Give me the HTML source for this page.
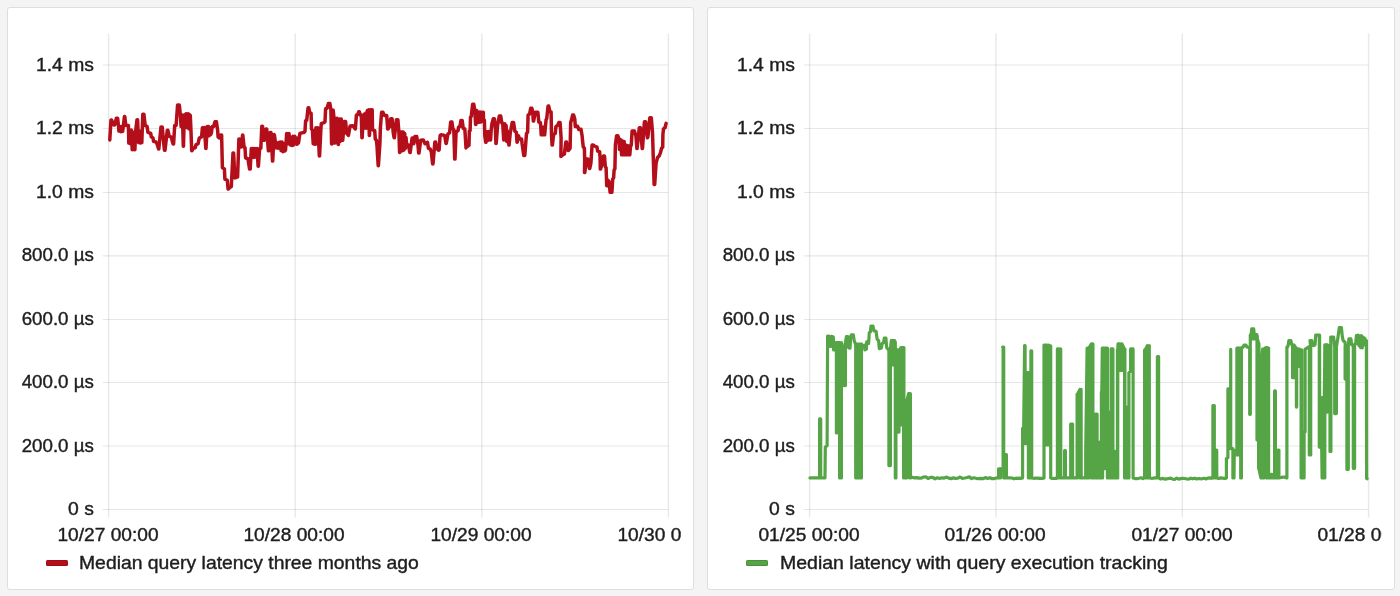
<!DOCTYPE html>
<html><head><meta charset="utf-8"><title>latency</title>
<style>
html,body{margin:0;padding:0}
body{width:1400px;height:596px;background:#f4f4f4;position:relative;overflow:hidden;font-family:"Liberation Sans",sans-serif;color:#1e1e1e;-webkit-text-stroke:0.4px #1e1e1e}
.panel{position:absolute;top:7px;height:583px;box-sizing:border-box;background:#fff;border:1px solid #dedede;border-radius:3px}
.plot{position:absolute;left:0;top:0}
.g{stroke:rgba(0,0,0,0.095);stroke-width:1.2}
.gv{stroke:rgba(0,0,0,0.085);stroke-width:1.5}
.yl,.xl,.lg{will-change:transform}
.yl{position:absolute;height:24px;line-height:24px;font-size:18.4px;text-align:right;white-space:nowrap;transform:scaleX(1.055);transform-origin:100% 50%}
.clip{position:absolute;top:520px;height:30px;overflow:hidden}
.xl{position:absolute;top:3px;width:200px;text-align:center;height:24px;line-height:24px;font-size:18.4px;white-space:nowrap;transform:scaleX(1.04);transform-origin:50% 50%}
.sw{position:absolute;top:559.6px;width:22px;height:6.6px;border-radius:1.5px;box-shadow:inset 0 0 0 1px rgba(0,0,0,0.13)}
.lg{position:absolute;top:550.5px;height:24px;line-height:24px;font-size:18.4px;white-space:nowrap;transform:scaleX(1.052);transform-origin:0 50%}
</style></head><body>
<div class="panel" style="left:7px;width:687px"></div>
<svg class="plot" width="1400" height="596" viewBox="0 0 1400 596">
<clipPath id="c1"><rect x="8" y="8" width="685" height="581"/></clipPath>
<g clip-path="url(#c1)">
<line x1="102.8" y1="65.0" x2="668.4" y2="65.0" class="g"/>
<line x1="102.8" y1="128.5" x2="668.4" y2="128.5" class="g"/>
<line x1="102.8" y1="192.5" x2="668.4" y2="192.5" class="g"/>
<line x1="102.8" y1="255.8" x2="668.4" y2="255.8" class="g"/>
<line x1="102.8" y1="319.5" x2="668.4" y2="319.5" class="g"/>
<line x1="102.8" y1="382.5" x2="668.4" y2="382.5" class="g"/>
<line x1="102.8" y1="446.0" x2="668.4" y2="446.0" class="g"/>
<line x1="102.8" y1="509.5" x2="668.4" y2="509.5" class="g"/>
<line x1="108.6" y1="33.5" x2="108.6" y2="517.5" class="gv"/>
<line x1="295.2" y1="33.5" x2="295.2" y2="517.5" class="gv"/>
<line x1="481.8" y1="33.5" x2="481.8" y2="517.5" class="gv"/>
<line x1="668.4" y1="33.5" x2="668.4" y2="517.5" class="gv"/>
<path d="M109.8,139.9 L111.0,119.9 L111.5,119.9 L113.6,124.9 L114.7,124.9 L116.4,118.3 L117.6,118.3 L118.5,126.0 L118.9,131.1 L119.9,126.6 L120.8,131.7 L121.7,126.6 L122.6,131.4 L123.3,126.6 L124.4,116.6 L124.8,116.6 L125.8,125.4 L128.4,125.4 L128.8,143.1 L129.6,131.1 L130.4,143.7 L131.3,130.0 L132.2,149.7 L133.3,132.3 L134.6,149.7 L134.9,149.7 L135.6,131.1 L137.0,119.7 L137.6,119.7 L138.6,142.6 L139.5,131.1 L140.4,143.1 L141.3,132.3 L141.8,142.6 L142.8,114.3 L143.9,114.3 L145.2,125.4 L147.1,126.6 L147.9,132.3 L150.7,133.4 L151.3,136.9 L153.0,138.0 L153.6,141.4 L155.9,142.0 L157.0,143.7 L158.6,149.1 L158.8,149.1 L161.0,126.9 L162.2,126.9 L164.4,150.2 L165.0,150.2 L167.3,130.3 L167.9,130.3 L169.2,136.3 L171.1,136.9 L173.0,143.9 L173.6,143.9 L174.7,125.4 L176.1,125.4 L177.6,105.0 L179.3,105.0 L180.4,115.1 L181.1,126.6 L182.1,115.1 L182.4,115.1 L183.3,146.2 L183.5,146.2 L184.3,115.1 L185.0,127.7 L186.0,113.8 L186.3,113.8 L187.1,127.7 L188.1,113.8 L188.3,113.8 L189.1,128.9 L190.0,115.1 L190.3,115.7 L190.9,128.9 L191.7,150.8 L192.0,150.8 L193.2,148.3 L195.3,147.7 L195.9,144.9 L198.1,143.7 L199.3,138.0 L201.6,136.9 L202.4,127.7 L203.1,135.7 L204.1,127.5 L204.3,127.5 L205.8,148.5 L206.0,148.5 L207.2,126.6 L207.9,135.7 L208.5,126.6 L209.2,135.7 L209.9,127.7 L210.8,134.6 L211.5,132.3 L212.2,126.6 L213.6,126.6 L215.0,121.8 L216.4,121.8 L217.6,130.0 L218.1,136.9 L219.3,138.0 L220.8,134.9 L221.6,134.9 L222.4,167.7 L224.4,168.9 L224.9,179.1 L227.3,180.3 L228.1,189.1 L229.6,187.7 L231.3,186.6 L233.0,152.9 L233.6,152.9 L234.9,178.0 L237.6,176.9 L238.9,138.9 L239.3,138.9 L240.9,147.1 L241.1,147.1 L242.6,134.9 L242.8,134.9 L244.1,147.1 L245.0,147.7 L245.6,158.0 L247.9,158.6 L249.6,169.1 L250.2,169.1 L251.3,148.6 L252.1,157.4 L253.0,148.6 L253.9,157.4 L254.8,148.6 L255.7,156.9 L256.9,148.6 L257.1,148.6 L258.1,166.2 L258.4,166.2 L259.6,148.6 L260.8,148.3 L261.8,126.3 L262.5,126.3 L264.0,140.3 L264.3,140.3 L265.9,128.9 L266.7,128.9 L268.4,150.8 L268.7,150.8 L270.1,132.6 L271.0,132.6 L272.5,161.1 L272.7,161.1 L274.1,134.6 L274.4,135.1 L275.6,143.7 L276.1,147.7 L277.0,143.1 L277.9,148.3 L278.8,142.6 L279.7,148.3 L280.2,142.0 L281.1,150.6 L282.0,142.0 L282.9,151.7 L283.9,143.7 L284.8,151.1 L285.5,150.0 L286.7,133.4 L287.0,133.4 L288.2,143.7 L289.0,133.4 L289.6,139.1 L290.3,144.9 L291.3,139.1 L291.5,139.7 L292.3,145.4 L292.8,136.3 L293.7,144.9 L294.6,136.3 L294.8,136.3 L295.5,143.7 L296.4,138.0 L297.1,144.3 L297.8,138.0 L298.5,143.1 L299.3,137.4 L299.9,133.4 L304.4,132.3 L305.0,131.1 L305.6,120.9 L306.7,120.3 L308.1,107.7 L308.7,107.7 L309.9,112.9 L311.1,113.4 L311.5,128.9 L312.4,130.0 L313.2,143.7 L314.0,131.1 L314.9,144.3 L315.9,127.7 L316.8,143.7 L317.7,127.7 L317.9,127.7 L318.7,142.6 L319.3,155.9 L319.6,155.9 L320.7,132.3 L321.3,123.7 L323.3,122.9 L325.0,122.0 L325.6,108.9 L327.1,108.1 L328.4,103.5 L329.9,103.5 L330.9,110.0 L331.6,143.9 L331.8,143.9 L332.9,110.0 L333.2,110.3 L334.1,118.6 L334.6,143.1 L335.3,118.6 L336.0,142.6 L336.9,118.3 L337.2,118.9 L338.2,144.5 L338.4,144.5 L339.3,118.9 L340.1,141.4 L341.0,118.9 L341.3,118.9 L342.5,140.3 L342.7,140.3 L344.4,121.4 L345.6,121.4 L346.7,133.4 L348.4,135.4 L350.1,126.0 L353.0,125.8 L355.2,128.9 L355.4,128.9 L356.4,115.1 L357.6,114.6 L358.7,111.8 L359.3,111.8 L360.4,115.1 L361.3,115.1 L361.9,137.7 L362.2,137.7 L363.3,115.1 L363.9,127.9 L364.5,114.0 L365.2,127.9 L365.9,112.9 L366.6,128.3 L367.3,110.6 L368.0,128.3 L368.7,109.8 L369.3,135.4 L369.5,135.4 L370.5,109.8 L371.2,128.3 L372.0,109.8 L372.2,109.8 L372.5,128.9 L373.0,130.0 L374.7,130.6 L375.3,139.1 L376.4,140.3 L377.0,146.0 L377.6,156.3 L378.2,165.7 L378.4,165.7 L379.9,143.7 L380.4,127.7 L381.6,112.3 L383.0,112.3 L384.2,115.5 L386.7,115.5 L387.7,129.1 L388.0,129.1 L389.6,126.6 L390.7,118.7 L392.1,118.7 L393.2,132.3 L394.1,137.7 L394.4,137.7 L396.4,119.7 L397.9,119.7 L398.9,132.3 L399.6,152.5 L399.8,152.5 L400.5,132.1 L401.2,151.1 L401.9,132.1 L402.6,150.6 L403.3,132.1 L404.0,150.0 L404.7,133.4 L405.3,148.3 L406.0,137.4 L406.7,144.9 L408.4,144.9 L409.8,152.5 L410.2,152.5 L412.1,138.0 L412.8,138.0 L413.8,143.7 L415.0,136.6 L416.7,136.6 L417.8,143.7 L418.7,153.1 L419.0,153.1 L420.7,140.3 L423.3,139.9 L425.0,143.7 L426.2,143.1 L427.5,142.3 L428.4,148.3 L430.1,148.9 L431.3,151.7 L432.6,163.9 L433.0,163.9 L434.9,142.0 L435.6,142.0 L436.7,148.3 L438.4,150.2 L439.1,150.0 L440.1,135.7 L441.0,134.7 L443.3,135.1 L444.7,135.7 L446.0,143.4 L446.3,143.4 L447.9,134.0 L449.6,132.9 L450.7,122.0 L451.9,122.0 L452.9,128.9 L453.8,129.8 L454.7,159.1 L455.0,159.1 L456.1,131.7 L458.1,130.6 L458.5,127.1 L459.9,126.6 L461.0,120.4 L462.2,120.4 L463.2,128.3 L464.8,128.9 L465.2,134.6 L466.0,147.9 L466.5,147.1 L469.0,145.4 L469.3,131.1 L470.1,130.6 L470.5,117.4 L471.3,116.3 L472.6,104.3 L473.8,104.3 L474.8,110.3 L475.6,124.5 L475.9,124.5 L476.7,110.6 L477.6,122.6 L478.3,111.9 L479.2,122.2 L480.1,111.9 L481.0,122.0 L481.9,112.3 L482.7,120.9 L483.3,112.3 L483.5,119.7 L484.4,120.3 L484.8,135.7 L485.7,142.2 L486.0,142.2 L487.2,131.7 L487.9,140.3 L488.5,131.4 L489.2,139.9 L490.1,131.7 L490.6,139.9 L491.1,131.1 L491.9,123.7 L493.3,118.7 L494.4,118.7 L495.4,128.9 L495.9,143.4 L496.2,143.4 L497.6,125.4 L499.3,116.1 L500.7,116.1 L501.8,122.9 L502.7,123.4 L503.7,139.9 L504.0,139.9 L504.8,123.7 L505.5,138.0 L506.1,125.4 L506.8,141.4 L507.5,131.1 L508.9,145.1 L509.1,145.1 L510.3,132.3 L510.7,130.6 L512.2,122.5 L513.6,122.5 L514.8,131.1 L516.4,132.3 L517.0,142.2 L517.3,142.2 L518.5,135.7 L519.6,139.1 L521.6,138.9 L522.1,143.7 L523.8,155.4 L524.8,155.4 L526.5,133.4 L527.6,132.3 L528.1,115.1 L529.6,114.0 L530.7,108.3 L531.9,108.3 L532.8,112.9 L533.3,121.1 L533.6,121.1 L535.3,112.3 L537.9,112.3 L538.8,122.0 L540.4,122.6 L540.8,126.6 L541.2,134.8 L542.1,127.1 L543.1,134.8 L544.0,127.1 L544.7,134.8 L545.3,127.7 L546.1,119.7 L546.7,118.6 L548.1,106.0 L548.7,106.0 L549.9,111.7 L551.1,111.9 L551.5,134.6 L552.1,145.1 L552.4,145.1 L553.6,134.6 L555.3,133.4 L555.9,126.6 L557.6,125.4 L558.9,122.6 L560.1,122.6 L561.1,138.0 L560.9,156.5 L562.5,155.1 L564.4,154.0 L565.8,142.0 L566.5,142.0 L568.2,150.6 L568.5,150.6 L570.1,148.3 L570.7,122.0 L571.3,120.9 L572.6,115.1 L573.6,115.1 L574.8,119.1 L575.3,126.6 L577.6,126.3 L578.7,129.4 L581.0,129.2 L582.1,135.7 L582.5,140.3 L583.3,147.1 L584.4,148.3 L584.7,159.7 L584.5,172.5 L584.8,172.5 L586.5,158.9 L587.7,158.9 L589.4,168.5 L589.7,168.5 L590.9,163.1 L592.1,145.0 L593.0,145.0 L594.4,146.0 L597.0,147.1 L597.6,151.1 L599.6,151.7 L600.1,157.4 L600.3,169.1 L600.6,169.1 L602.4,163.1 L603.5,156.1 L604.5,156.1 L605.3,166.6 L606.1,167.7 L606.5,179.1 L606.7,185.7 L607.9,180.3 L609.0,181.4 L610.1,192.3 L611.9,192.3 L612.7,179.1 L613.6,178.0 L614.1,170.0 L614.9,168.9 L615.4,144.9 L616.6,135.7 L617.8,135.7 L619.1,139.1 L619.5,149.4 L620.5,139.7 L620.7,139.7 L621.6,154.8 L622.5,140.9 L623.3,154.8 L624.1,141.4 L625.0,154.8 L625.7,144.9 L626.6,154.8 L627.3,145.4 L628.2,154.8 L629.0,146.0 L629.8,154.8 L630.5,146.6 L631.3,144.9 L632.1,130.9 L634.4,131.1 L635.9,135.7 L636.9,148.5 L637.1,148.5 L639.3,127.8 L640.5,127.8 L642.2,148.5 L642.5,148.5 L644.4,121.8 L645.6,121.8 L647.4,137.7 L647.9,136.9 L649.8,117.8 L651.3,117.8 L652.5,132.3 L654.1,184.5 L654.7,184.5 L656.1,163.1 L657.6,157.4 L659.3,155.7 L660.4,152.9 L661.6,148.3 L662.7,147.1 L662.9,134.6 L663.5,128.9 L665.0,127.7 L666.1,123.4" fill="none" stroke="#b50e1b" stroke-width="3.5" stroke-linejoin="round" stroke-linecap="round"/>
</g></svg>
<div class="yl" style="left:7px;width:86.89999999999999px;top:52.6px;transform:scaleX(1.05)">1.4 ms</div>
<div class="yl" style="left:7px;width:86.89999999999999px;top:116.1px;transform:scaleX(1.05)">1.2 ms</div>
<div class="yl" style="left:7px;width:86.89999999999999px;top:180.1px;transform:scaleX(1.05)">1.0 ms</div>
<div class="yl" style="left:7px;width:86.89999999999999px;top:243.4px;transform:scaleX(1.018)">800.0 µs</div>
<div class="yl" style="left:7px;width:86.89999999999999px;top:307.1px;transform:scaleX(1.018)">600.0 µs</div>
<div class="yl" style="left:7px;width:86.89999999999999px;top:370.1px;transform:scaleX(1.018)">400.0 µs</div>
<div class="yl" style="left:7px;width:86.89999999999999px;top:433.6px;transform:scaleX(1.018)">200.0 µs</div>
<div class="yl" style="left:7px;width:86.89999999999999px;top:497.1px;transform:scaleX(1.05)">0 s</div>
<div class="clip" style="left:8px;width:673px">
<div class="xl" style="left:-0.2px;">10/27 00:00</div>
<div class="xl" style="left:186.4px;">10/28 00:00</div>
<div class="xl" style="left:373.0px;">10/29 00:00</div>
<div class="xl" style="left:559.6px;">10/30 00:00</div>
</div>
<div class="sw" style="left:45.9px;background:#b50e1b"></div>
<div class="lg" style="left:79.0px;transform:scaleX(1.052)">Median query latency three months ago</div>
<div class="panel" style="left:707px;width:688px"></div>
<svg class="plot" width="1400" height="596" viewBox="0 0 1400 596">
<clipPath id="c2"><rect x="709" y="8" width="685" height="581"/></clipPath>
<g clip-path="url(#c2)">
<line x1="803.8000000000001" y1="65.0" x2="1368.6" y2="65.0" class="g"/>
<line x1="803.8000000000001" y1="128.5" x2="1368.6" y2="128.5" class="g"/>
<line x1="803.8000000000001" y1="192.5" x2="1368.6" y2="192.5" class="g"/>
<line x1="803.8000000000001" y1="255.8" x2="1368.6" y2="255.8" class="g"/>
<line x1="803.8000000000001" y1="319.5" x2="1368.6" y2="319.5" class="g"/>
<line x1="803.8000000000001" y1="382.5" x2="1368.6" y2="382.5" class="g"/>
<line x1="803.8000000000001" y1="446.0" x2="1368.6" y2="446.0" class="g"/>
<line x1="803.8000000000001" y1="509.5" x2="1368.6" y2="509.5" class="g"/>
<line x1="809.6" y1="33.5" x2="809.6" y2="517.5" class="gv"/>
<line x1="995.9" y1="33.5" x2="995.9" y2="517.5" class="gv"/>
<line x1="1182.3" y1="33.5" x2="1182.3" y2="517.5" class="gv"/>
<line x1="1368.6" y1="33.5" x2="1368.6" y2="517.5" class="gv"/>
<path d="M810.0,477.9 L819.6,477.9 L819.6,418.9 L820.7,418.9 L820.7,477.9 L825.0,477.9 L825.3,447.1 L827.1,445.7 L827.6,336.0 L829.0,336.0 L829.6,346.3 L830.7,346.3 L831.3,336.3 L833.3,337.0 L833.6,349.9 L834.7,349.9 L835.7,342.7 L836.4,342.7 L836.4,432.9 L836.7,432.9 L836.7,342.7 L839.6,342.7 L839.6,477.9 L841.4,477.9 L841.4,342.7 L843.3,349.1 L844.1,349.1 L844.1,385.6 L845.4,385.6 L845.4,343.4 L846.4,336.6 L847.6,336.6 L848.6,347.7 L850.0,348.1 L850.7,336.3 L851.4,334.9 L853.3,334.9 L854.3,341.3 L855.3,343.4 L855.7,344.1 L855.7,477.9 L857.1,477.9 L857.1,344.1 L858.6,344.1 L858.6,477.9 L860.0,477.9 L860.0,344.1 L861.4,344.1 L861.4,477.9 L861.5,344.1 L862.1,346.3 L863.3,345.6 L864.3,345.1 L865.0,349.9 L866.4,349.1 L866.7,342.0 L867.9,341.3 L868.6,343.4 L869.3,332.7 L870.4,332.0 L871.0,326.0 L873.0,326.0 L873.9,330.9 L876.1,331.3 L877.1,339.1 L878.6,340.6 L879.3,348.7 L881.4,348.0 L882.1,343.4 L883.6,342.7 L884.3,338.1 L885.9,338.1 L886.7,347.7 L887.9,349.1 L888.9,349.1 L888.9,465.6 L890.4,465.6 L890.4,349.1 L891.3,340.6 L892.1,340.6 L892.1,364.9 L893.3,364.9 L893.3,340.6 L894.4,340.6 L894.4,364.9 L894.5,340.6 L895.3,342.0 L895.3,349.1 L895.3,477.9 L895.9,477.9 L895.9,349.1 L898.7,350.6 L898.7,432.1 L899.0,432.1 L899.0,350.6 L901.0,347.7 L901.0,425.0 L901.3,425.0 L901.3,347.7 L903.6,347.7 L903.6,477.9 L903.9,477.9 L903.9,347.7 L903.9,477.9 L906.7,477.9 L906.7,401.3 L908.6,393.7 L909.6,393.7 L909.6,477.9 L910.4,477.9 L910.4,393.7 L910.5,477.9 L912.1,477.3 L914.4,477.9 L916.7,477.6 L919.0,478.1 L921.3,478.1 L923.6,477.0 L925.9,476.9 L928.1,478.5 L930.4,477.4 L932.7,477.3 L935.0,478.8 L937.3,477.8 L939.6,478.5 L941.9,477.8 L944.1,478.1 L946.4,477.2 L948.7,478.1 L951.0,478.6 L953.3,477.9 L955.6,478.3 L957.9,478.2 L960.1,477.0 L962.4,478.4 L964.7,478.0 L967.0,477.5 L969.3,476.9 L971.6,478.6 L973.9,477.8 L976.1,478.3 L978.4,478.6 L980.7,478.3 L983.0,478.7 L985.3,477.6 L987.6,478.5 L989.9,477.7 L992.1,478.7 L994.4,478.6 L996.4,477.9 L998.6,477.9 L998.6,468.9 L1000.4,468.9 L1000.4,477.9 L1000.5,468.9 L1003.1,468.9 L1003.1,347.0 L1002.6,347.0 L1003.7,347.0 L1003.7,477.9 L1004.9,477.9 L1005.1,454.6 L1006.4,454.6 L1006.4,477.9 L1007.9,477.8 L1009.9,477.9 L1011.9,478.0 L1013.9,478.8 L1015.9,478.2 L1017.9,478.4 L1019.9,478.1 L1021.4,478.3 L1022.6,477.9 L1022.6,428.6 L1023.7,427.7 L1024.6,345.6 L1025.1,345.6 L1025.1,443.6 L1026.3,443.6 L1026.3,372.7 L1028.4,372.7 L1028.4,477.9 L1030.9,477.9 L1030.9,350.9 L1031.7,350.9 L1031.7,477.9 L1033.7,478.3 L1035.7,478.2 L1037.7,478.1 L1039.7,478.4 L1041.7,478.4 L1042.9,478.3 L1044.0,477.9 L1044.0,345.1 L1046.6,345.1 L1046.6,445.0 L1048.1,445.0 L1048.1,345.1 L1050.7,346.0 L1050.7,477.9 L1052.1,478.5 L1054.1,478.3 L1056.1,478.5 L1056.4,478.1 L1057.4,477.9 L1057.4,348.9 L1059.1,348.9 L1059.1,477.9 L1060.7,477.9 L1060.7,348.9 L1060.8,477.9 L1064.6,477.9 L1064.6,450.7 L1065.4,450.7 L1065.4,477.9 L1067.9,477.9 L1070.7,477.9 L1070.7,424.0 L1072.6,424.0 L1072.6,477.9 L1077.1,477.9 L1077.1,394.1 L1077.4,394.1 L1077.4,477.9 L1077.5,394.1 L1080.0,389.4 L1080.0,389.4 L1080.0,477.9 L1081.1,477.9 L1081.1,389.4 L1081.2,477.9 L1083.4,477.9 L1085.7,477.9 L1085.7,452.9 L1087.1,348.0 L1087.1,477.9 L1088.9,477.9 L1088.9,348.0 L1091.4,343.9 L1091.4,477.9 L1092.9,477.9 L1092.9,343.9 L1092.9,477.9 L1095.4,477.9 L1095.4,414.0 L1097.1,414.0 L1097.1,477.9 L1099.7,477.9 L1099.7,442.1 L1100.3,442.1 L1100.3,477.9 L1101.4,477.9 L1101.4,392.0 L1101.7,392.0 L1101.7,477.9 L1101.8,392.0 L1102.3,348.0 L1102.6,348.0 L1102.6,477.9 L1102.6,348.0 L1104.6,348.0 L1104.6,468.6 L1105.4,468.6 L1105.4,348.0 L1107.4,348.0 L1107.4,477.9 L1109.1,477.9 L1109.1,412.1 L1109.1,477.9 L1111.1,477.9 L1111.1,348.9 L1112.9,348.9 L1112.9,477.9 L1115.1,477.9 L1115.1,451.4 L1115.2,477.9 L1117.4,477.9 L1117.4,349.9 L1117.7,349.9 L1117.7,477.9 L1117.8,349.9 L1118.0,343.9 L1120.3,343.9 L1120.3,370.3 L1122.0,370.3 L1122.0,343.9 L1124.3,348.9 L1124.6,348.9 L1124.6,477.9 L1124.9,477.9 L1124.9,348.9 L1124.9,477.9 L1127.1,477.9 L1127.1,407.1 L1127.1,477.9 L1128.9,477.9 L1128.9,372.7 L1130.6,371.3 L1130.6,348.9 L1133.1,348.9 L1133.1,477.9 L1135.0,478.6 L1137.0,478.7 L1139.0,478.3 L1141.0,477.8 L1143.0,478.6 L1143.1,478.1 L1144.6,477.9 L1144.6,349.9 L1145.1,349.9 L1145.1,477.9 L1145.2,349.9 L1147.4,345.6 L1147.4,477.9 L1149.3,477.9 L1149.3,345.6 L1149.4,477.9 L1151.4,478.3 L1153.4,478.2 L1155.4,477.9 L1156.0,477.9 L1157.4,477.9 L1157.4,356.6 L1158.6,356.6 L1158.6,477.9 L1160.7,479.0 L1162.7,478.4 L1164.7,479.1 L1166.7,478.8 L1168.7,478.5 L1170.7,478.2 L1172.7,479.1 L1174.7,479.3 L1176.7,478.2 L1178.7,479.1 L1180.7,478.6 L1182.7,478.3 L1184.7,478.5 L1186.7,479.0 L1188.7,479.1 L1190.7,478.2 L1192.7,478.8 L1194.7,478.2 L1196.7,479.0 L1198.7,478.5 L1200.0,478.7 L1200.0,478.7 L1202.0,478.8 L1204.0,478.3 L1206.0,478.9 L1208.0,478.1 L1210.0,477.8 L1211.4,478.3 L1212.9,477.9 L1212.9,405.6 L1214.3,405.6 L1214.3,477.9 L1216.7,477.9 L1216.7,450.0 L1216.8,477.9 L1218.6,478.5 L1220.6,477.9 L1222.6,478.1 L1224.6,478.3 L1225.0,478.4 L1226.4,477.9 L1226.4,458.6 L1227.9,457.7 L1227.9,388.9 L1230.7,388.9 L1230.7,349.4 L1230.7,448.6 L1232.9,448.6 L1232.9,477.9 L1234.0,477.9 L1234.3,450.6 L1236.0,450.6 L1236.9,455.0 L1236.9,348.0 L1238.1,348.0 L1238.1,455.0 L1238.2,348.0 L1240.7,348.0 L1240.7,477.9 L1241.4,477.9 L1241.4,348.0 L1243.1,347.0 L1244.0,345.1 L1246.0,345.1 L1246.9,347.0 L1248.6,347.4 L1249.7,347.4 L1249.7,414.3 L1250.3,414.3 L1250.3,334.9 L1251.1,334.9 L1251.7,328.9 L1253.7,328.9 L1254.3,334.6 L1256.9,334.6 L1256.9,338.9 L1252.9,338.9 L1252.9,336.3 L1257.4,336.3 L1257.0,337.7 L1257.0,440.0 L1257.1,337.7 L1258.6,343.4 L1258.6,343.4 L1258.6,468.6 L1258.9,468.6 L1258.9,343.4 L1258.9,468.6 L1260.9,477.9 L1260.9,368.4 L1262.6,349.1 L1262.9,349.1 L1262.9,477.9 L1264.0,477.9 L1264.0,349.1 L1265.7,347.7 L1267.4,347.7 L1266.6,348.0 L1266.6,477.9 L1267.6,477.9 L1267.6,348.0 L1268.6,348.0 L1268.6,477.9 L1271.1,477.9 L1271.1,474.3 L1272.0,474.3 L1272.0,477.9 L1274.6,477.9 L1274.6,390.9 L1275.4,390.9 L1275.4,477.9 L1278.0,477.9 L1278.0,450.0 L1278.9,450.0 L1278.9,477.9 L1280.9,477.5 L1282.9,477.1 L1284.9,477.0 L1285.0,477.4 L1286.9,477.9 L1286.9,347.0 L1288.0,346.3 L1288.9,340.6 L1290.9,340.6 L1291.7,344.6 L1292.6,344.9 L1292.6,377.7 L1293.9,377.7 L1293.9,344.9 L1296.4,348.4 L1296.4,407.1 L1296.7,407.1 L1296.7,348.4 L1298.9,349.1 L1298.9,366.3 L1298.9,349.1 L1301.1,349.9 L1301.1,477.9 L1301.7,477.9 L1301.7,349.9 L1301.8,477.9 L1304.1,477.9 L1304.1,432.1 L1305.1,432.1 L1305.1,349.1 L1306.4,348.4 L1308.6,347.0 L1309.3,346.6 L1309.3,455.0 L1310.7,455.0 L1310.7,346.6 L1310.0,340.6 L1311.7,340.6 L1312.6,344.9 L1313.7,345.6 L1315.0,344.9 L1315.7,335.1 L1318.6,335.1 L1319.3,335.1 L1319.3,447.1 L1319.6,447.1 L1319.6,335.1 L1319.6,447.1 L1319.6,447.1 L1321.7,447.7 L1322.1,477.9 L1322.1,397.7 L1322.4,397.7 L1322.4,477.9 L1322.5,397.7 L1324.3,397.7 L1324.7,364.9 L1324.8,344.9 L1324.8,477.9 L1324.9,344.9 L1327.1,344.9 L1327.1,412.1 L1327.4,412.1 L1327.4,344.9 L1330.0,346.3 L1330.0,451.4 L1330.9,451.4 L1330.9,346.3 L1330.7,337.0 L1333.6,337.0 L1334.7,347.0 L1334.7,413.6 L1336.4,413.6 L1336.4,347.0 L1337.9,337.7 L1339.3,327.7 L1341.4,327.7 L1342.3,336.3 L1343.1,340.6 L1345.0,342.0 L1345.4,346.3 L1345.1,346.3 L1345.1,379.1 L1345.2,346.3 L1346.9,346.3 L1346.9,469.3 L1348.3,469.3 L1348.3,346.3 L1348.9,338.9 L1350.9,338.9 L1351.7,344.9 L1353.3,344.9 L1353.3,468.3 L1354.6,468.3 L1354.6,344.9 L1355.7,343.4 L1356.4,335.6 L1357.1,343.4 L1358.0,335.1 L1358.9,345.6 L1359.7,336.0 L1360.6,347.7 L1361.4,335.6 L1362.3,348.0 L1363.1,337.0 L1364.0,344.9 L1364.9,338.4 L1365.7,342.0 L1366.4,340.6 L1366.6,478.4 L1367.1,478.7" fill="none" stroke="#55a546" stroke-width="3.2" stroke-linejoin="round" stroke-linecap="round"/>
</g></svg>
<div class="yl" style="left:708px;width:86.90000000000002px;top:52.6px;transform:scaleX(1.05)">1.4 ms</div>
<div class="yl" style="left:708px;width:86.90000000000002px;top:116.1px;transform:scaleX(1.05)">1.2 ms</div>
<div class="yl" style="left:708px;width:86.90000000000002px;top:180.1px;transform:scaleX(1.05)">1.0 ms</div>
<div class="yl" style="left:708px;width:86.90000000000002px;top:243.4px;transform:scaleX(1.018)">800.0 µs</div>
<div class="yl" style="left:708px;width:86.90000000000002px;top:307.1px;transform:scaleX(1.018)">600.0 µs</div>
<div class="yl" style="left:708px;width:86.90000000000002px;top:370.1px;transform:scaleX(1.018)">400.0 µs</div>
<div class="yl" style="left:708px;width:86.90000000000002px;top:433.6px;transform:scaleX(1.018)">200.0 µs</div>
<div class="yl" style="left:708px;width:86.90000000000002px;top:497.1px;transform:scaleX(1.05)">0 s</div>
<div class="clip" style="left:709px;width:673px">
<div class="xl" style="left:-0.2px;">01/25 00:00</div>
<div class="xl" style="left:186.1px;">01/26 00:00</div>
<div class="xl" style="left:372.5px;">01/27 00:00</div>
<div class="xl" style="left:558.8px;">01/28 00:00</div>
</div>
<div class="sw" style="left:746.3px;background:#55a546"></div>
<div class="lg" style="left:780.0px;transform:scaleX(1.06)">Median latency with query execution tracking</div>
</body></html>
